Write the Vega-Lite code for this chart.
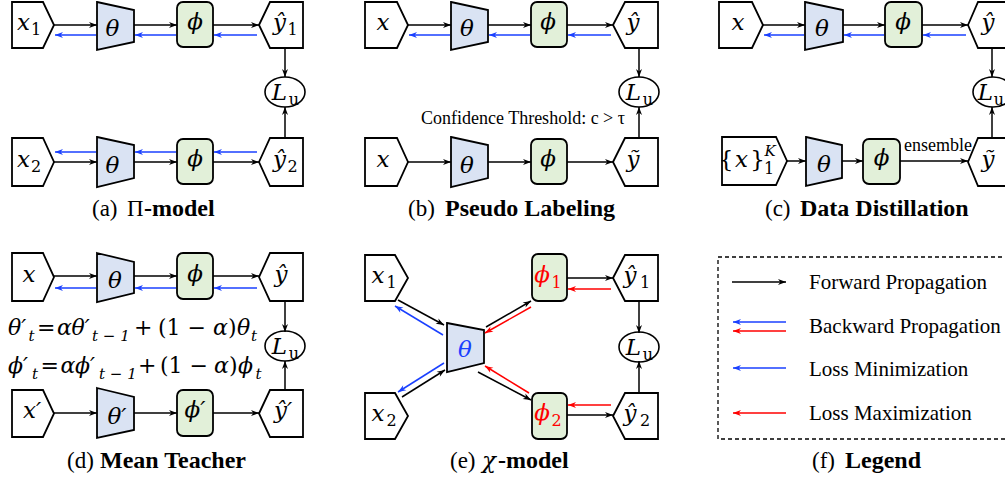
{
"$schema": "https://vega.github.io/schema/vega-lite/v6.json",
"width": 1005, "height": 480, "padding": 0,
"autosize": {"type": "none"},
"background": "white",
"config": {"view": {"stroke": null}},
"encoding": {
 "x": {"field": "x", "type": "quantitative", "scale": {"domain": [0, 1005], "nice": false, "zero": false}, "axis": null},
 "y": {"field": "y", "type": "quantitative", "scale": {"domain": [0, 480], "nice": false, "zero": false, "reverse": true}, "axis": null, "stack": null}
},
"datasets": {
 "polys": [
  {"id":"a1i","kind":"box","x":12,"y":2,"y2":48},{"id":"a1i","kind":"box","x":43,"y":2,"y2":48},{"id":"a1i","kind":"box","x":54,"y":25,"y2":25},
  {"id":"a1t","kind":"theta","x":97,"y":2,"y2":50},{"id":"a1t","kind":"theta","x":134,"y":10,"y2":42},
  {"id":"a1o","kind":"box","x":259,"y":25,"y2":25},{"id":"a1o","kind":"box","x":270,"y":2,"y2":48},{"id":"a1o","kind":"box","x":303,"y":2,"y2":48},
  {"id":"a2i","kind":"box","x":12,"y":138,"y2":186},{"id":"a2i","kind":"box","x":43,"y":138,"y2":186},{"id":"a2i","kind":"box","x":54,"y":162,"y2":162},
  {"id":"a2t","kind":"theta","x":97,"y":137,"y2":187},{"id":"a2t","kind":"theta","x":134,"y":145,"y2":178},
  {"id":"a2o","kind":"box","x":259,"y":162,"y2":162},{"id":"a2o","kind":"box","x":270,"y":138,"y2":186},{"id":"a2o","kind":"box","x":303,"y":138,"y2":186},
  {"id":"b1i","kind":"box","x":365,"y":2,"y2":48},{"id":"b1i","kind":"box","x":397,"y":2,"y2":48},{"id":"b1i","kind":"box","x":408,"y":25,"y2":25},
  {"id":"b1t","kind":"theta","x":451,"y":2,"y2":50},{"id":"b1t","kind":"theta","x":488,"y":10,"y2":42},
  {"id":"b1o","kind":"box","x":613,"y":25,"y2":25},{"id":"b1o","kind":"box","x":625,"y":2,"y2":48},{"id":"b1o","kind":"box","x":658,"y":2,"y2":48},
  {"id":"b2i","kind":"box","x":365,"y":138,"y2":186},{"id":"b2i","kind":"box","x":397,"y":138,"y2":186},{"id":"b2i","kind":"box","x":408,"y":162,"y2":162},
  {"id":"b2t","kind":"theta","x":451,"y":137,"y2":187},{"id":"b2t","kind":"theta","x":488,"y":145,"y2":178},
  {"id":"b2o","kind":"box","x":613,"y":162,"y2":162},{"id":"b2o","kind":"box","x":625,"y":138,"y2":186},{"id":"b2o","kind":"box","x":658,"y":138,"y2":186},
  {"id":"c1i","kind":"box","x":719,"y":2,"y2":48},{"id":"c1i","kind":"box","x":752,"y":2,"y2":48},{"id":"c1i","kind":"box","x":763,"y":25,"y2":25},
  {"id":"c1t","kind":"theta","x":805,"y":2,"y2":50},{"id":"c1t","kind":"theta","x":843,"y":10,"y2":42},
  {"id":"c1o","kind":"box","x":968,"y":25,"y2":25},{"id":"c1o","kind":"box","x":978,"y":2,"y2":48},{"id":"c1o","kind":"box","x":1013,"y":2,"y2":48},
  {"id":"c2i","kind":"box","x":722,"y":137,"y2":185},{"id":"c2i","kind":"box","x":776,"y":137,"y2":185},{"id":"c2i","kind":"box","x":787,"y":161,"y2":161},
  {"id":"c2t","kind":"theta","x":806,"y":137,"y2":186},{"id":"c2t","kind":"theta","x":842,"y":145,"y2":178},
  {"id":"c2o","kind":"box","x":968,"y":162,"y2":162},{"id":"c2o","kind":"box","x":978,"y":138,"y2":186},{"id":"c2o","kind":"box","x":1013,"y":138,"y2":186},
  {"id":"d1i","kind":"box","x":12,"y":253,"y2":301},{"id":"d1i","kind":"box","x":43,"y":253,"y2":301},{"id":"d1i","kind":"box","x":54,"y":277,"y2":277},
  {"id":"d1t","kind":"theta","x":97,"y":253,"y2":302},{"id":"d1t","kind":"theta","x":134,"y":262,"y2":293},
  {"id":"d1o","kind":"box","x":259,"y":277,"y2":277},{"id":"d1o","kind":"box","x":270,"y":253,"y2":301},{"id":"d1o","kind":"box","x":303,"y":253,"y2":301},
  {"id":"d2i","kind":"box","x":12,"y":390,"y2":437},{"id":"d2i","kind":"box","x":43,"y":390,"y2":437},{"id":"d2i","kind":"box","x":54,"y":413.5,"y2":413.5},
  {"id":"d2t","kind":"theta","x":97,"y":388,"y2":438},{"id":"d2t","kind":"theta","x":134,"y":397,"y2":430},
  {"id":"d2o","kind":"box","x":259,"y":413.5,"y2":413.5},{"id":"d2o","kind":"box","x":270,"y":390,"y2":437},{"id":"d2o","kind":"box","x":303,"y":390,"y2":437},
  {"id":"e1i","kind":"box","x":365,"y":255,"y2":301},{"id":"e1i","kind":"box","x":395,"y":255,"y2":301},{"id":"e1i","kind":"box","x":408,"y":278,"y2":278},
  {"id":"e2i","kind":"box","x":365,"y":393,"y2":439},{"id":"e2i","kind":"box","x":395,"y":393,"y2":439},{"id":"e2i","kind":"box","x":408,"y":416,"y2":416},
  {"id":"et","kind":"theta","x":447,"y":323,"y2":372},{"id":"et","kind":"theta","x":484,"y":330,"y2":363},
  {"id":"e1o","kind":"box","x":613,"y":278,"y2":278},{"id":"e1o","kind":"box","x":625,"y":255,"y2":301},{"id":"e1o","kind":"box","x":658,"y":255,"y2":301},
  {"id":"e2o","kind":"box","x":613,"y":416,"y2":416},{"id":"e2o","kind":"box","x":625,"y":393,"y2":439},{"id":"e2o","kind":"box","x":658,"y":393,"y2":439}
 ],
 "phis": [
  {"x":177,"x2":213,"y":2,"y2":47},{"x":177,"x2":213,"y":139,"y2":184},
  {"x":531,"x2":567,"y":2,"y2":47},{"x":531,"x2":567,"y":139,"y2":184},
  {"x":885,"x2":922,"y":2,"y2":47},{"x":863,"x2":900,"y":139,"y2":184},
  {"x":177,"x2":213,"y":253,"y2":299},{"x":177,"x2":213,"y":390,"y2":436},
  {"x":532,"x2":567,"y":254,"y2":301},{"x":532,"x2":567,"y":393,"y2":439}
 ],
 "ellipses": [
  {"x":285,"y":92},{"x":639,"y":92},{"x":993,"y":92},{"x":285,"y":346},{"x":639,"y":347}
 ],
 "arrows": [
  {"k":"k","x":54,"y":25,"x2":97,"y2":25},{"k":"k","x":134,"y":25,"x2":177,"y2":25},{"k":"k","x":213,"y":25,"x2":259,"y2":25},
  {"k":"b","x":96,"y":35,"x2":55,"y2":35},{"k":"b","x":176,"y":35,"x2":135,"y2":35},{"k":"b","x":257,"y":35,"x2":214,"y2":35},
  {"k":"k","x":285,"y":48,"x2":285,"y2":77},{"k":"k","x":285,"y":138,"x2":285,"y2":107},
  {"k":"k","x":54,"y":162,"x2":97,"y2":162},{"k":"k","x":134,"y":162,"x2":177,"y2":162},{"k":"k","x":213,"y":162,"x2":259,"y2":162},
  {"k":"b","x":96,"y":152,"x2":55,"y2":152},{"k":"b","x":176,"y":152,"x2":135,"y2":152},{"k":"b","x":257,"y":152,"x2":214,"y2":152},
  {"k":"k","x":408,"y":25,"x2":451,"y2":25},{"k":"k","x":488,"y":25,"x2":531,"y2":25},{"k":"k","x":567,"y":25,"x2":613,"y2":25},
  {"k":"b","x":450,"y":35,"x2":409,"y2":35},{"k":"b","x":530,"y":35,"x2":489,"y2":35},{"k":"b","x":611,"y":35,"x2":568,"y2":35},
  {"k":"k","x":639,"y":48,"x2":639,"y2":77},{"k":"k","x":639,"y":138,"x2":639,"y2":107},
  {"k":"k","x":408,"y":162,"x2":451,"y2":162},{"k":"k","x":488,"y":162,"x2":531,"y2":162},{"k":"k","x":567,"y":162,"x2":613,"y2":162},
  {"k":"k","x":763,"y":25,"x2":805,"y2":25},{"k":"k","x":843,"y":25,"x2":885,"y2":25},{"k":"k","x":922,"y":25,"x2":968,"y2":25},
  {"k":"b","x":804,"y":35,"x2":764,"y2":35},{"k":"b","x":884,"y":35,"x2":844,"y2":35},{"k":"b","x":966,"y":35,"x2":923,"y2":35},
  {"k":"k","x":992,"y":48,"x2":992,"y2":77},{"k":"k","x":992,"y":138,"x2":992,"y2":107},
  {"k":"k","x":787,"y":161,"x2":806,"y2":161},{"k":"k","x":842,"y":161,"x2":863,"y2":161},{"k":"k","x":900,"y":161,"x2":968,"y2":161},
  {"k":"k","x":54,"y":276,"x2":97,"y2":276},{"k":"k","x":134,"y":276,"x2":177,"y2":276},{"k":"k","x":213,"y":276,"x2":259,"y2":276},
  {"k":"b","x":96,"y":288,"x2":55,"y2":288},{"k":"b","x":176,"y":288,"x2":135,"y2":288},{"k":"b","x":257,"y":288,"x2":214,"y2":288},
  {"k":"k","x":285,"y":301,"x2":285,"y2":332},{"k":"k","x":285,"y":390,"x2":285,"y2":361},
  {"k":"k","x":54,"y":413,"x2":97,"y2":413},{"k":"k","x":134,"y":413,"x2":177,"y2":413},{"k":"k","x":213,"y":413,"x2":259,"y2":413},
  {"k":"k","x":398,"y":300,"x2":444,"y2":325},{"k":"b","x":443,"y":335,"x2":395,"y2":306},
  {"k":"k","x":402,"y":397,"x2":445,"y2":370},{"k":"b","x":444,"y":363,"x2":398,"y2":392},
  {"k":"k","x":486,"y":327,"x2":531,"y2":301},{"k":"r","x":531,"y":307,"x2":485,"y2":333},
  {"k":"k","x":478,"y":372,"x2":531,"y2":400},{"k":"r","x":529,"y":393,"x2":485,"y2":366},
  {"k":"k","x":567,"y":278,"x2":613,"y2":278},{"k":"r","x":611,"y":289,"x2":568,"y2":289},
  {"k":"r","x":611,"y":405,"x2":568,"y2":405},{"k":"k","x":567,"y":415,"x2":613,"y2":415},
  {"k":"k","x":639,"y":301,"x2":639,"y2":333},{"k":"k","x":639,"y":393,"x2":639,"y2":361},
  {"k":"k","x":732,"y":282,"x2":786,"y2":282},{"k":"b","x":786,"y":322,"x2":733,"y2":322},{"k":"r","x":786,"y":331,"x2":733,"y2":331},
  {"k":"b","x":786,"y":368,"x2":733,"y2":368},{"k":"r","x":786,"y":413,"x2":733,"y2":413}
 ],
 "labels": [
  {"role":"m","t":"x","x":23.5,"y":30,"c":"k"},{"role":"su","t":"1","x":36,"y":35,"c":"k"},
  {"role":"m","t":"θ","x":112.5,"y":36,"c":"k"},{"role":"m","t":"ϕ","x":195,"y":29,"c":"k"},
  {"role":"m","t":"ŷ","x":279.5,"y":30,"c":"k"},{"role":"su","t":"1","x":292.5,"y":35,"c":"k"},
  {"role":"m","t":"x","x":23.5,"y":167,"c":"k"},{"role":"su","t":"2","x":36,"y":172,"c":"k"},
  {"role":"m","t":"θ","x":112.5,"y":173,"c":"k"},{"role":"m","t":"ϕ","x":195,"y":166,"c":"k"},
  {"role":"m","t":"ŷ","x":279.5,"y":167,"c":"k"},{"role":"su","t":"2","x":292.5,"y":172,"c":"k"},
  {"role":"m","t":"L","x":279.5,"y":100,"c":"k"},{"role":"su","t":"u","x":294,"y":105,"c":"k"},
  {"role":"m","t":"x","x":383,"y":30,"c":"k"},{"role":"m","t":"θ","x":467,"y":36,"c":"k"},
  {"role":"m","t":"ϕ","x":548,"y":29,"c":"k"},{"role":"m","t":"ŷ","x":633,"y":30,"c":"k"},
  {"role":"m","t":"x","x":383,"y":167,"c":"k"},{"role":"m","t":"θ","x":467,"y":173,"c":"k"},
  {"role":"m","t":"ϕ","x":548,"y":166,"c":"k"},{"role":"m","t":"ỹ","x":633,"y":167,"c":"k"},
  {"role":"m","t":"L","x":633.5,"y":100,"c":"k"},{"role":"su","t":"u","x":648,"y":105,"c":"k"},
  {"role":"m","t":"x","x":738,"y":30,"c":"k"},{"role":"m","t":"θ","x":822,"y":36,"c":"k"},
  {"role":"m","t":"ϕ","x":903,"y":29,"c":"k"},{"role":"m","t":"ŷ","x":988,"y":30,"c":"k"},
  {"role":"m","t":"L","x":985.5,"y":100,"c":"k"},{"role":"su","t":"u","x":999,"y":105,"c":"k"},
  {"role":"mu","t":"{","x":726,"y":167,"c":"k"},{"role":"m","t":"x","x":741.5,"y":167,"c":"k"},
  {"role":"mu","t":"}","x":757.5,"y":167,"c":"k"},{"role":"s","t":"K","x":770,"y":156,"c":"k"},
  {"role":"su","t":"1","x":769,"y":174,"c":"k"},
  {"role":"m","t":"θ","x":824,"y":172,"c":"k"},{"role":"m","t":"ϕ","x":881.5,"y":165,"c":"k"},
  {"role":"m","t":"ỹ","x":988,"y":167,"c":"k"},
  {"role":"m","t":"x","x":29,"y":282,"c":"k"},{"role":"m","t":"θ","x":115,"y":288,"c":"k"},
  {"role":"m","t":"ϕ","x":195,"y":281,"c":"k"},{"role":"m","t":"ŷ","x":281,"y":282,"c":"k"},
  {"role":"m","t":"L","x":279.5,"y":354,"c":"k"},{"role":"su","t":"u","x":294,"y":359,"c":"k"},
  {"role":"m","t":"x′","x":32,"y":418,"c":"k"},{"role":"m","t":"θ′","x":117,"y":424,"c":"k"},
  {"role":"m","t":"ϕ′","x":195,"y":417,"c":"k"},{"role":"m","t":"ŷ′","x":283,"y":418,"c":"k"},
  {"role":"em","t":"θ′","x":8,"y":335,"c":"k"},{"role":"es","t":"t","x":28.5,"y":341,"c":"k"},
  {"role":"eu","t":"=","x":37,"y":335,"c":"k"},{"role":"em","t":"α","x":57,"y":335,"c":"k"},
  {"role":"em","t":"θ′","x":71.5,"y":335,"c":"k"},{"role":"es","t":"t − 1","x":92,"y":341,"c":"k"},
  {"role":"eu","t":"+","x":134,"y":335,"c":"k"},{"role":"eu","t":"(1 −","x":158,"y":335,"c":"k"},
  {"role":"em","t":"α","x":213,"y":335,"c":"k"},{"role":"eu","t":")","x":228,"y":335,"c":"k"},
  {"role":"em","t":"θ","x":237,"y":335,"c":"k"},{"role":"es","t":"t","x":251,"y":341,"c":"k"},
  {"role":"em","t":"ϕ′","x":8,"y":373,"c":"k"},{"role":"es","t":"t","x":32,"y":379,"c":"k"},
  {"role":"eu","t":"=","x":40.5,"y":373,"c":"k"},{"role":"em","t":"α","x":60.5,"y":373,"c":"k"},
  {"role":"em","t":"ϕ′","x":75,"y":373,"c":"k"},{"role":"es","t":"t − 1","x":99,"y":379,"c":"k"},
  {"role":"eu","t":"+","x":138,"y":373,"c":"k"},{"role":"eu","t":"(1 −","x":160,"y":373,"c":"k"},
  {"role":"em","t":"α","x":214,"y":373,"c":"k"},{"role":"eu","t":")","x":229,"y":373,"c":"k"},
  {"role":"em","t":"ϕ","x":238,"y":373,"c":"k"},{"role":"es","t":"t","x":255.5,"y":379,"c":"k"},
  {"role":"m","t":"x","x":378,"y":283,"c":"k"},{"role":"su","t":"1","x":391.5,"y":288,"c":"k"},
  {"role":"m","t":"x","x":378,"y":421,"c":"k"},{"role":"su","t":"2","x":391.5,"y":426,"c":"k"},
  {"role":"m","t":"θ","x":465,"y":357,"c":"b"},
  {"role":"m","t":"ϕ","x":542,"y":282,"c":"r"},{"role":"su","t":"1","x":556.5,"y":288,"c":"r"},
  {"role":"m","t":"ϕ","x":542,"y":420,"c":"r"},{"role":"su","t":"2","x":556.5,"y":426,"c":"r"},
  {"role":"m","t":"ŷ","x":630,"y":283,"c":"k"},{"role":"su","t":"1","x":645,"y":288,"c":"k"},
  {"role":"m","t":"ŷ","x":630,"y":421,"c":"k"},{"role":"su","t":"2","x":645,"y":426,"c":"k"},
  {"role":"m","t":"L","x":633.5,"y":355,"c":"k"},{"role":"su","t":"u","x":648,"y":360,"c":"k"},
  {"role":"m","t":"χ","x":489,"y":468,"c":"k"},
  {"role":"txt","t":"Confidence Threshold: c > τ","x":523,"y":124,"c":"k"},
  {"role":"txt","t":"ensemble","x":938,"y":151,"c":"k"},
  {"role":"leg","t":"Forward Propagation","x":809,"y":289,"c":"k"},
  {"role":"leg","t":"Backward Propagation","x":809,"y":333,"c":"k"},
  {"role":"leg","t":"Loss Minimization","x":809,"y":376,"c":"k"},
  {"role":"leg","t":"Loss Maximization","x":809,"y":420,"c":"k"},
  {"role":"cap","t":"(a)","x":92,"y":216,"c":"k"},{"role":"cap","t":"Π","x":127,"y":216,"c":"k"},{"role":"capb","t":"-model","x":144,"y":216,"c":"k"},
  {"role":"cap","t":"(b)","x":408,"y":216,"c":"k"},{"role":"capb","t":"Pseudo Labeling","x":445,"y":216,"c":"k"},
  {"role":"cap","t":"(c)","x":765,"y":216,"c":"k"},{"role":"capb","t":"Data Distillation","x":800,"y":216,"c":"k"},
  {"role":"cap","t":"(d)","x":67,"y":468,"c":"k"},{"role":"capb","t":"Mean Teacher","x":100,"y":468,"c":"k"},
  {"role":"cap","t":"(e)","x":450,"y":468,"c":"k"},{"role":"capb","t":"-model","x":498,"y":468,"c":"k"},
  {"role":"cap","t":"(f)","x":812,"y":468,"c":"k"},{"role":"capb","t":"Legend","x":845,"y":468,"c":"k"}
 ]
},
"layer": [
 {"data": {"name": "polys"},
  "mark": {"type": "area", "orient": "vertical", "stroke": "#000000", "strokeWidth": 1.8, "strokeJoin": "miter", "opacity": 1},
  "encoding": {"y2": {"field": "y2"}, "detail": {"field": "id", "type": "nominal"},
   "fill": {"field": "kind", "type": "nominal", "scale": {"domain": ["box", "theta"], "range": ["#ffffff", "#dae3f3"]}, "legend": null}}},
 {"data": {"name": "phis"},
  "mark": {"type": "rect", "fill": "#e2f0d9", "stroke": "#000000", "strokeWidth": 1.8, "cornerRadius": 6},
  "encoding": {"x2": {"field": "x2"}, "y2": {"field": "y2"}}},
 {"data": {"values": [{"x": 718, "x2": 1012, "y": 257, "y2": 439}]},
  "mark": {"type": "rect", "fillOpacity": 0, "stroke": "#000000", "strokeWidth": 1.3, "strokeDash": [4, 3]},
  "encoding": {"x2": {"field": "x2"}, "y2": {"field": "y2"}}},
 {"data": {"name": "ellipses"},
  "mark": {"type": "point", "shape": "M -1 0 C -1 -0.414 -0.552 -0.75 0 -0.75 C 0.552 -0.75 1 -0.414 1 0 C 1 0.414 0.552 0.75 0 0.75 C -0.552 0.75 -1 0.414 -1 0 Z", "size": 1600, "filled": true, "fill": "#ffffff", "stroke": "#000000", "strokeWidth": 1.6, "opacity": 1}},
 {"data": {"name": "arrows"},
  "mark": {"type": "rule", "strokeWidth": 1.5},
  "encoding": {"x2": {"field": "x2"}, "y2": {"field": "y2"},
   "color": {"field": "k", "type": "nominal", "scale": {"domain": ["k", "b", "r"], "range": ["#000000", "#1a40ff", "#ff0000"]}, "legend": null}}},
 {"data": {"name": "arrows"},
  "transform": [{"calculate": "atan2(datum.y2 - datum.y, datum.x2 - datum.x) * 180 / PI", "as": "ang"}],
  "mark": {"type": "point", "shape": "M 0 0 L -2 -0.75 L -1.4 0 L -2 0.75 Z", "size": 64, "filled": true, "opacity": 1, "strokeWidth": 0},
  "encoding": {
   "x": {"field": "x2", "type": "quantitative", "scale": {"domain": [0, 1005], "nice": false, "zero": false}, "axis": null},
   "y": {"field": "y2", "type": "quantitative", "scale": {"domain": [0, 480], "nice": false, "zero": false, "reverse": true}, "axis": null},
   "angle": {"field": "ang", "type": "quantitative", "scale": null},
   "color": {"field": "k", "type": "nominal", "scale": {"domain": ["k", "b", "r"], "range": ["#000000", "#1a40ff", "#ff0000"]}, "legend": null}}},
 {"data": {"name": "labels"}, "transform": [{"filter": "datum.role === 'm'"}],
  "mark": {"type": "text", "font": "DejaVu Serif", "fontStyle": "italic", "fontSize": 23, "align": "center", "baseline": "alphabetic"},
  "encoding": {"text": {"field": "t"}, "color": {"field": "c", "type": "nominal", "scale": {"domain": ["k", "b", "r"], "range": ["#000000", "#1a40ff", "#ff0000"]}, "legend": null}}},
 {"data": {"name": "labels"}, "transform": [{"filter": "datum.role === 'mu'"}],
  "mark": {"type": "text", "font": "DejaVu Serif", "fontSize": 23, "align": "center", "baseline": "alphabetic", "color": "#000000"},
  "encoding": {"text": {"field": "t"}}},
 {"data": {"name": "labels"}, "transform": [{"filter": "datum.role === 's'"}],
  "mark": {"type": "text", "font": "DejaVu Serif", "fontStyle": "italic", "fontSize": 15, "align": "center", "baseline": "alphabetic", "color": "#000000"},
  "encoding": {"text": {"field": "t"}}},
 {"data": {"name": "labels"}, "transform": [{"filter": "datum.role === 'su'"}],
  "mark": {"type": "text", "font": "DejaVu Serif", "fontSize": 16, "align": "center", "baseline": "alphabetic"},
  "encoding": {"text": {"field": "t"}, "color": {"field": "c", "type": "nominal", "scale": {"domain": ["k", "b", "r"], "range": ["#000000", "#1a40ff", "#ff0000"]}, "legend": null}}},
 {"data": {"name": "labels"}, "transform": [{"filter": "datum.role === 'em'"}],
  "mark": {"type": "text", "font": "DejaVu Serif", "fontStyle": "italic", "fontSize": 22, "align": "left", "baseline": "alphabetic", "color": "#000000"},
  "encoding": {"text": {"field": "t"}}},
 {"data": {"name": "labels"}, "transform": [{"filter": "datum.role === 'eu'"}],
  "mark": {"type": "text", "font": "DejaVu Serif", "fontSize": 22, "align": "left", "baseline": "alphabetic", "color": "#000000"},
  "encoding": {"text": {"field": "t"}}},
 {"data": {"name": "labels"}, "transform": [{"filter": "datum.role === 'es'"}],
  "mark": {"type": "text", "font": "DejaVu Serif", "fontStyle": "italic", "fontSize": 15, "align": "left", "baseline": "alphabetic", "color": "#000000"},
  "encoding": {"text": {"field": "t"}}},
 {"data": {"name": "labels"}, "transform": [{"filter": "datum.role === 'txt'"}],
  "mark": {"type": "text", "font": "Liberation Serif", "fontSize": 18, "align": "center", "baseline": "alphabetic", "color": "#000000"},
  "encoding": {"text": {"field": "t"}}},
 {"data": {"name": "labels"}, "transform": [{"filter": "datum.role === 'leg'"}],
  "mark": {"type": "text", "font": "Liberation Serif", "fontSize": 21, "align": "left", "baseline": "alphabetic", "color": "#000000"},
  "encoding": {"text": {"field": "t"}}},
 {"data": {"name": "labels"}, "transform": [{"filter": "datum.role === 'cap'"}],
  "mark": {"type": "text", "font": "Liberation Serif", "fontSize": 23, "align": "left", "baseline": "alphabetic", "color": "#000000"},
  "encoding": {"text": {"field": "t"}}},
 {"data": {"name": "labels"}, "transform": [{"filter": "datum.role === 'capb'"}],
  "mark": {"type": "text", "font": "Liberation Serif", "fontSize": 24, "fontWeight": "bold", "align": "left", "baseline": "alphabetic", "color": "#000000"},
  "encoding": {"text": {"field": "t"}}}
]
}
